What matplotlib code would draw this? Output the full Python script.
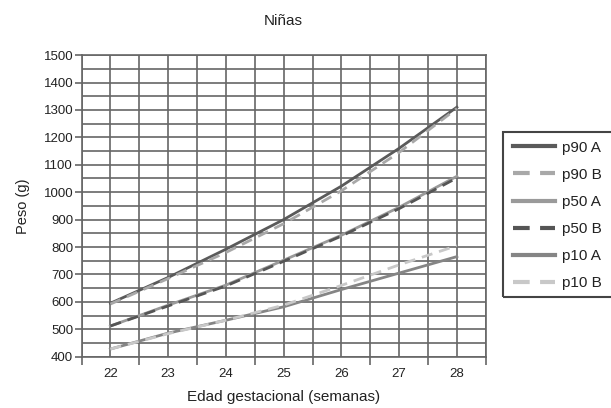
import numpy as np
import matplotlib.pyplot as plt
from matplotlib.patches import Rectangle

plt.rcParams['font.family'] = ['Liberation Sans', 'DejaVu Sans']

semanas = [22, 23, 24, 25, 26, 27, 28]
p90_a = [595, 689, 792, 900, 1022, 1160, 1310]
p90_b = [592, 685, 780, 885, 1005, 1145, 1305]
p50_a = [512, 588, 661, 752, 843, 945, 1058]
p50_b = [512, 585, 658, 748, 840, 940, 1052]
p10_a = [428, 486, 533, 582, 645, 705, 765]
p10_b = [428, 484, 533, 588, 660, 735, 805]

grid_col = '#666666'
text_col = '#222222'

fig = plt.figure(figsize=(6.11, 4.08), dpi=100)
ax = fig.add_axes([0.1334, 0.1257, 0.795 - 0.1334, 0.865 - 0.1257])

# grid: every 50 g and every half week
for y in np.arange(400, 1501, 50):
    ax.axhline(y, color=grid_col, lw=1.2, zorder=1)
for x in np.arange(21.5, 28.51, 0.5):
    ax.axvline(x, color=grid_col, lw=1.2, zorder=1)

ax.plot(semanas, p10_a, color='#858585', lw=2, ls='-', label='p10 A', zorder=3)
ax.plot(semanas, p10_b, color='#c8c8c8', lw=2, ls=(0, (4, 2.5)), label='p10 B', zorder=4)
ax.plot(semanas, p50_a, color='#9a9a9a', lw=2, ls='-', label='p50 A', zorder=3)
ax.plot(semanas, p50_b, color='#555555', lw=2, ls=(0, (4, 2.5)), label='p50 B', zorder=4)
ax.plot(semanas, p90_a, color='#5a5a5a', lw=2, ls='-', label='p90 A', zorder=3)
ax.plot(semanas, p90_b, color='#a8a8a8', lw=2, ls=(0, (4, 2.5)), label='p90 B', zorder=4)

ax.set_xlim(21.5, 28.5)
ax.set_ylim(400, 1500)
ax.set_yticks(np.arange(400, 1501, 100))
ax.set_xticks(np.arange(21.5, 28.51, 1.0))
ax.set_xticklabels([])
ax.set_xticks(semanas, minor=True)
ax.set_xticklabels([str(s) for s in semanas], minor=True)
ax.tick_params(axis='x', which='minor', length=0, pad=8, labelsize=9.5, labelcolor=text_col)
ax.tick_params(axis='x', which='major', length=6, width=1.2, color=grid_col)
ax.tick_params(axis='y', length=5, width=1.2, color=grid_col, labelsize=9.5,
               labelcolor=text_col, pad=1)
for s in ax.spines.values():
    s.set_color(grid_col)
    s.set_linewidth(1.2)

ax.set_title('Niñas', fontsize=11, color=text_col, pad=22)
ax.set_xlabel('Edad gestacional (semanas)', fontsize=11, color=text_col, labelpad=7)
ax.set_ylabel('Peso (g)', fontsize=10.5, color=text_col, labelpad=10)

handles, labels = ax.get_legend_handles_labels()
order = ['p90 A', 'p90 B', 'p50 A', 'p50 B', 'p10 A', 'p10 B']
hmap = dict(zip(labels, handles))
leg = fig.legend([hmap[k] for k in order], order, loc='upper left',
                 bbox_to_anchor=(508 / 611, 1 - 136 / 408), borderaxespad=0,
                 fontsize=11, handlelength=2.8, handletextpad=0.45,
                 labelspacing=0.86, borderpad=0.3, frameon=False)
for t in leg.get_texts():
    t.set_color(text_col)
for h in leg.get_lines():
    h.set_linewidth(3)

# legend box runs off the right edge of the figure
fig.patches.append(Rectangle((503 / 611, 1 - 297 / 408), 130 / 611, 165 / 408,
                             transform=fig.transFigure, fill=False,
                             edgecolor='#444444', lw=1.5))

fig.savefig('out.png', dpi=100)
